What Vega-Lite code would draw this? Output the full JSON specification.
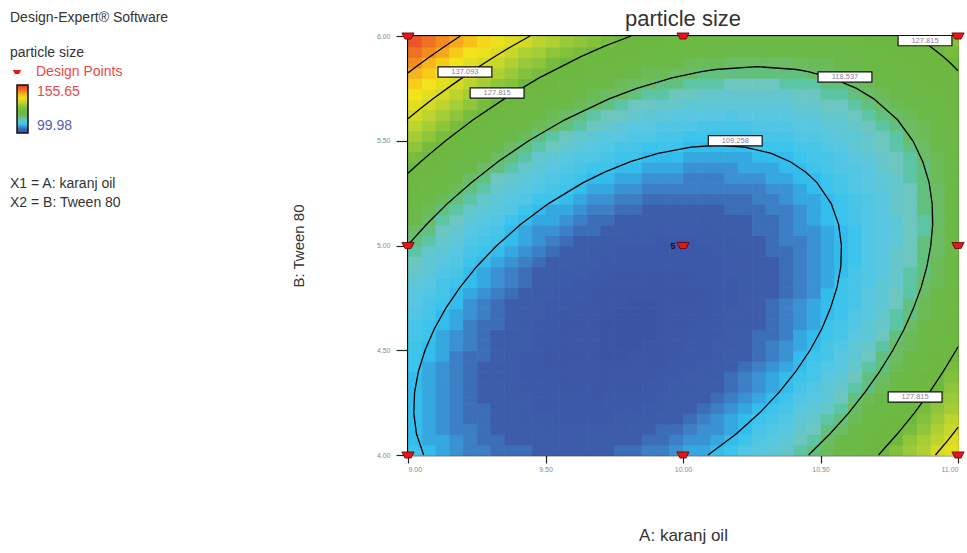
{
  "$schema": "https://vega.github.io/schema/vega-lite/v6.json",
  "width": 550,
  "height": 419,
  "autosize": {"type": "none"},
  "padding": {"left": 408, "top": 36, "right": 9, "bottom": 98},
  "background": "white",
  "config": {
    "font": "Liberation Sans",
    "view": {"stroke": "#000", "strokeWidth": 2},
    "axis": {"zindex": 1, "grid": false, "domainColor": "#000", "domainWidth": 1.5, "tickColor": "#222", "tickWidth": 1.2, "labelColor": "#8a8a8a", "labelFontSize": 7, "titleColor": "#333", "titleFontWeight": "normal"}
  },
  "title": {"text": "particle size", "fontSize": 22, "fontWeight": "normal", "color": "#333", "offset": -20, "anchor": "middle", "frame": "group"},
  "datasets": {
    "grid": [
      {"B":4,"A":[9,9.05,9.1,9.15,9.2,9.25,9.3,9.35,9.4,9.45,9.5,9.55,9.6,9.65,9.7,9.75,9.8,9.85,9.9,9.95,10,10.05,10.1,10.15,10.2,10.25,10.3,10.35,10.4,10.45,10.5,10.55,10.6,10.65,10.7,10.75,10.8,10.85,10.9,10.95],"v":[110,109,108,107,106,106,105,105,105,104,104,104,104,104,104,105,105,106,106,107,108,108,109,110,112,113,114,115,117,118,120,122,124,126,128,130,132,134,137,139]},
      {"B":4.05,"A":[9,9.05,9.1,9.15,9.2,9.25,9.3,9.35,9.4,9.45,9.5,9.55,9.6,9.65,9.7,9.75,9.8,9.85,9.9,9.95,10,10.05,10.1,10.15,10.2,10.25,10.3,10.35,10.4,10.45,10.5,10.55,10.6,10.65,10.7,10.75,10.8,10.85,10.9,10.95],"v":[109,108,108,107,106,105,105,104,104,104,104,103,103,104,104,104,104,105,105,106,107,107,108,109,110,112,113,114,116,117,119,121,122,124,126,128,131,133,135,138]},
      {"B":4.1,"A":[9,9.05,9.1,9.15,9.2,9.25,9.3,9.35,9.4,9.45,9.5,9.55,9.6,9.65,9.7,9.75,9.8,9.85,9.9,9.95,10,10.05,10.1,10.15,10.2,10.25,10.3,10.35,10.4,10.45,10.5,10.55,10.6,10.65,10.7,10.75,10.8,10.85,10.9,10.95],"v":[109,108,107,106,106,105,104,104,104,103,103,103,103,103,103,103,104,104,105,105,106,107,107,108,109,111,112,113,115,116,118,119,121,123,125,127,129,131,134,136]},
      {"B":4.15,"A":[9,9.05,9.1,9.15,9.2,9.25,9.3,9.35,9.4,9.45,9.5,9.55,9.6,9.65,9.7,9.75,9.8,9.85,9.9,9.95,10,10.05,10.1,10.15,10.2,10.25,10.3,10.35,10.4,10.45,10.5,10.55,10.6,10.65,10.7,10.75,10.8,10.85,10.9,10.95],"v":[109,108,107,106,105,105,104,104,103,103,103,102,102,102,102,103,103,103,104,104,105,106,107,108,109,110,111,112,114,115,117,118,120,122,124,126,128,130,132,135]},
      {"B":4.2,"A":[9,9.05,9.1,9.15,9.2,9.25,9.3,9.35,9.4,9.45,9.5,9.55,9.6,9.65,9.7,9.75,9.8,9.85,9.9,9.95,10,10.05,10.1,10.15,10.2,10.25,10.3,10.35,10.4,10.45,10.5,10.55,10.6,10.65,10.7,10.75,10.8,10.85,10.9,10.95],"v":[109,108,107,106,105,105,104,103,103,102,102,102,102,102,102,102,102,103,103,104,104,105,106,107,108,109,110,111,113,114,115,117,119,121,122,124,127,129,131,133]},
      {"B":4.25,"A":[9,9.05,9.1,9.15,9.2,9.25,9.3,9.35,9.4,9.45,9.5,9.55,9.6,9.65,9.7,9.75,9.8,9.85,9.9,9.95,10,10.05,10.1,10.15,10.2,10.25,10.3,10.35,10.4,10.45,10.5,10.55,10.6,10.65,10.7,10.75,10.8,10.85,10.9,10.95],"v":[109,108,107,106,105,104,104,103,103,102,102,102,102,101,102,102,102,102,103,103,104,104,105,106,107,108,109,110,112,113,114,116,118,120,121,123,125,127,130,132]},
      {"B":4.3,"A":[9,9.05,9.1,9.15,9.2,9.25,9.3,9.35,9.4,9.45,9.5,9.55,9.6,9.65,9.7,9.75,9.8,9.85,9.9,9.95,10,10.05,10.1,10.15,10.2,10.25,10.3,10.35,10.4,10.45,10.5,10.55,10.6,10.65,10.7,10.75,10.8,10.85,10.9,10.95],"v":[109,108,107,106,105,104,104,103,102,102,102,101,101,101,101,101,101,102,102,103,103,104,104,105,106,107,108,109,111,112,114,115,117,118,120,122,124,126,128,131]},
      {"B":4.35,"A":[9,9.05,9.1,9.15,9.2,9.25,9.3,9.35,9.4,9.45,9.5,9.55,9.6,9.65,9.7,9.75,9.8,9.85,9.9,9.95,10,10.05,10.1,10.15,10.2,10.25,10.3,10.35,10.4,10.45,10.5,10.55,10.6,10.65,10.7,10.75,10.8,10.85,10.9,10.95],"v":[109,108,107,106,105,104,104,103,102,102,102,101,101,101,101,101,101,101,102,102,103,103,104,105,106,107,108,109,110,111,113,114,116,118,119,121,123,125,127,130]},
      {"B":4.4,"A":[9,9.05,9.1,9.15,9.2,9.25,9.3,9.35,9.4,9.45,9.5,9.55,9.6,9.65,9.7,9.75,9.8,9.85,9.9,9.95,10,10.05,10.1,10.15,10.2,10.25,10.3,10.35,10.4,10.45,10.5,10.55,10.6,10.65,10.7,10.75,10.8,10.85,10.9,10.95],"v":[110,108,107,106,105,104,104,103,102,102,101,101,101,101,101,101,101,101,101,102,102,103,103,104,105,106,107,108,109,111,112,113,115,117,118,120,122,124,126,129]},
      {"B":4.45,"A":[9,9.05,9.1,9.15,9.2,9.25,9.3,9.35,9.4,9.45,9.5,9.55,9.6,9.65,9.7,9.75,9.8,9.85,9.9,9.95,10,10.05,10.1,10.15,10.2,10.25,10.3,10.35,10.4,10.45,10.5,10.55,10.6,10.65,10.7,10.75,10.8,10.85,10.9,10.95],"v":[110,109,108,106,105,105,104,103,102,102,101,101,101,101,100,100,101,101,101,101,102,102,103,104,104,105,106,107,109,110,111,113,114,116,118,119,121,123,125,128]},
      {"B":4.5,"A":[9,9.05,9.1,9.15,9.2,9.25,9.3,9.35,9.4,9.45,9.5,9.55,9.6,9.65,9.7,9.75,9.8,9.85,9.9,9.95,10,10.05,10.1,10.15,10.2,10.25,10.3,10.35,10.4,10.45,10.5,10.55,10.6,10.65,10.7,10.75,10.8,10.85,10.9,10.95],"v":[110,109,108,107,106,105,104,103,103,102,101,101,101,101,100,100,100,101,101,101,102,102,103,103,104,105,106,107,108,109,111,112,114,115,117,119,120,122,124,127]},
      {"B":4.55,"A":[9,9.05,9.1,9.15,9.2,9.25,9.3,9.35,9.4,9.45,9.5,9.55,9.6,9.65,9.7,9.75,9.8,9.85,9.9,9.95,10,10.05,10.1,10.15,10.2,10.25,10.3,10.35,10.4,10.45,10.5,10.55,10.6,10.65,10.7,10.75,10.8,10.85,10.9,10.95],"v":[111,110,108,107,106,105,104,103,103,102,102,101,101,101,100,100,100,100,101,101,101,102,102,103,104,105,105,106,108,109,110,111,113,114,116,118,120,122,124,126]},
      {"B":4.6,"A":[9,9.05,9.1,9.15,9.2,9.25,9.3,9.35,9.4,9.45,9.5,9.55,9.6,9.65,9.7,9.75,9.8,9.85,9.9,9.95,10,10.05,10.1,10.15,10.2,10.25,10.3,10.35,10.4,10.45,10.5,10.55,10.6,10.65,10.7,10.75,10.8,10.85,10.9,10.95],"v":[111,110,109,108,106,105,105,104,103,102,102,101,101,101,100,100,100,100,101,101,101,102,102,103,103,104,105,106,107,108,110,111,112,114,115,117,119,121,123,125]},
      {"B":4.65,"A":[9,9.05,9.1,9.15,9.2,9.25,9.3,9.35,9.4,9.45,9.5,9.55,9.6,9.65,9.7,9.75,9.8,9.85,9.9,9.95,10,10.05,10.1,10.15,10.2,10.25,10.3,10.35,10.4,10.45,10.5,10.55,10.6,10.65,10.7,10.75,10.8,10.85,10.9,10.95],"v":[112,111,109,108,107,106,105,104,103,103,102,101,101,101,101,100,100,100,101,101,101,101,102,103,103,104,105,106,107,108,109,110,112,113,115,117,118,120,122,124]},
      {"B":4.7,"A":[9,9.05,9.1,9.15,9.2,9.25,9.3,9.35,9.4,9.45,9.5,9.55,9.6,9.65,9.7,9.75,9.8,9.85,9.9,9.95,10,10.05,10.1,10.15,10.2,10.25,10.3,10.35,10.4,10.45,10.5,10.55,10.6,10.65,10.7,10.75,10.8,10.85,10.9,10.95],"v":[113,111,110,109,107,106,105,104,104,103,102,102,101,101,101,101,100,100,101,101,101,101,102,102,103,104,105,106,107,108,109,110,111,113,114,116,118,120,122,124]},
      {"B":4.75,"A":[9,9.05,9.1,9.15,9.2,9.25,9.3,9.35,9.4,9.45,9.5,9.55,9.6,9.65,9.7,9.75,9.8,9.85,9.9,9.95,10,10.05,10.1,10.15,10.2,10.25,10.3,10.35,10.4,10.45,10.5,10.55,10.6,10.65,10.7,10.75,10.8,10.85,10.9,10.95],"v":[113,112,111,109,108,107,106,105,104,103,103,102,102,101,101,101,101,101,101,101,101,101,102,102,103,104,104,105,106,107,109,110,111,113,114,116,117,119,121,123]},
      {"B":4.8,"A":[9,9.05,9.1,9.15,9.2,9.25,9.3,9.35,9.4,9.45,9.5,9.55,9.6,9.65,9.7,9.75,9.8,9.85,9.9,9.95,10,10.05,10.1,10.15,10.2,10.25,10.3,10.35,10.4,10.45,10.5,10.55,10.6,10.65,10.7,10.75,10.8,10.85,10.9,10.95],"v":[114,113,111,110,109,108,107,106,105,104,103,103,102,102,101,101,101,101,101,101,101,102,102,102,103,104,104,105,106,107,108,110,111,112,114,115,117,119,120,122]},
      {"B":4.85,"A":[9,9.05,9.1,9.15,9.2,9.25,9.3,9.35,9.4,9.45,9.5,9.55,9.6,9.65,9.7,9.75,9.8,9.85,9.9,9.95,10,10.05,10.1,10.15,10.2,10.25,10.3,10.35,10.4,10.45,10.5,10.55,10.6,10.65,10.7,10.75,10.8,10.85,10.9,10.95],"v":[115,114,112,111,109,108,107,106,105,104,104,103,103,102,102,101,101,101,101,101,101,102,102,103,103,104,104,105,106,107,108,109,111,112,113,115,117,118,120,122]},
      {"B":4.9,"A":[9,9.05,9.1,9.15,9.2,9.25,9.3,9.35,9.4,9.45,9.5,9.55,9.6,9.65,9.7,9.75,9.8,9.85,9.9,9.95,10,10.05,10.1,10.15,10.2,10.25,10.3,10.35,10.4,10.45,10.5,10.55,10.6,10.65,10.7,10.75,10.8,10.85,10.9,10.95],"v":[116,114,113,112,110,109,108,107,106,105,104,104,103,103,102,102,102,102,102,102,102,102,102,103,103,104,104,105,106,107,108,109,110,112,113,115,116,118,120,122]},
      {"B":4.95,"A":[9,9.05,9.1,9.15,9.2,9.25,9.3,9.35,9.4,9.45,9.5,9.55,9.6,9.65,9.7,9.75,9.8,9.85,9.9,9.95,10,10.05,10.1,10.15,10.2,10.25,10.3,10.35,10.4,10.45,10.5,10.55,10.6,10.65,10.7,10.75,10.8,10.85,10.9,10.95],"v":[117,115,114,113,111,110,109,108,107,106,105,104,104,103,103,102,102,102,102,102,102,102,103,103,103,104,105,105,106,107,108,109,110,112,113,115,116,118,119,121]},
      {"B":5,"A":[9,9.05,9.1,9.15,9.2,9.25,9.3,9.35,9.4,9.45,9.5,9.55,9.6,9.65,9.7,9.75,9.8,9.85,9.9,9.95,10,10.05,10.1,10.15,10.2,10.25,10.3,10.35,10.4,10.45,10.5,10.55,10.6,10.65,10.7,10.75,10.8,10.85,10.9,10.95],"v":[118,117,115,114,112,111,110,109,108,107,106,105,104,104,103,103,103,103,102,102,102,103,103,103,104,104,105,106,106,107,108,109,110,112,113,114,116,118,119,121]},
      {"B":5.05,"A":[9,9.05,9.1,9.15,9.2,9.25,9.3,9.35,9.4,9.45,9.5,9.55,9.6,9.65,9.7,9.75,9.8,9.85,9.9,9.95,10,10.05,10.1,10.15,10.2,10.25,10.3,10.35,10.4,10.45,10.5,10.55,10.6,10.65,10.7,10.75,10.8,10.85,10.9,10.95],"v":[119,118,116,115,113,112,111,109,108,107,107,106,105,105,104,104,103,103,103,103,103,103,103,104,104,105,105,106,107,107,108,109,110,112,113,114,116,117,119,121]},
      {"B":5.1,"A":[9,9.05,9.1,9.15,9.2,9.25,9.3,9.35,9.4,9.45,9.5,9.55,9.6,9.65,9.7,9.75,9.8,9.85,9.9,9.95,10,10.05,10.1,10.15,10.2,10.25,10.3,10.35,10.4,10.45,10.5,10.55,10.6,10.65,10.7,10.75,10.8,10.85,10.9,10.95],"v":[121,119,117,116,114,113,112,110,109,108,108,107,106,105,105,104,104,104,104,104,104,104,104,104,104,105,105,106,107,108,109,110,111,112,113,114,116,117,119,121]},
      {"B":5.15,"A":[9,9.05,9.1,9.15,9.2,9.25,9.3,9.35,9.4,9.45,9.5,9.55,9.6,9.65,9.7,9.75,9.8,9.85,9.9,9.95,10,10.05,10.1,10.15,10.2,10.25,10.3,10.35,10.4,10.45,10.5,10.55,10.6,10.65,10.7,10.75,10.8,10.85,10.9,10.95],"v":[122,120,118,117,115,114,113,112,110,109,108,108,107,106,106,105,105,104,104,104,104,104,104,105,105,105,106,106,107,108,109,110,111,112,113,115,116,118,119,121]},
      {"B":5.2,"A":[9,9.05,9.1,9.15,9.2,9.25,9.3,9.35,9.4,9.45,9.5,9.55,9.6,9.65,9.7,9.75,9.8,9.85,9.9,9.95,10,10.05,10.1,10.15,10.2,10.25,10.3,10.35,10.4,10.45,10.5,10.55,10.6,10.65,10.7,10.75,10.8,10.85,10.9,10.95],"v":[123,121,120,118,117,115,114,113,112,110,110,109,108,107,107,106,106,105,105,105,105,105,105,105,105,106,106,107,108,108,109,110,111,112,113,115,116,118,119,121]},
      {"B":5.25,"A":[9,9.05,9.1,9.15,9.2,9.25,9.3,9.35,9.4,9.45,9.5,9.55,9.6,9.65,9.7,9.75,9.8,9.85,9.9,9.95,10,10.05,10.1,10.15,10.2,10.25,10.3,10.35,10.4,10.45,10.5,10.55,10.6,10.65,10.7,10.75,10.8,10.85,10.9,10.95],"v":[125,123,121,120,118,117,115,114,113,112,111,110,109,108,108,107,107,106,106,106,106,106,106,106,106,106,107,107,108,109,110,111,112,113,114,115,116,118,119,121]},
      {"B":5.3,"A":[9,9.05,9.1,9.15,9.2,9.25,9.3,9.35,9.4,9.45,9.5,9.55,9.6,9.65,9.7,9.75,9.8,9.85,9.9,9.95,10,10.05,10.1,10.15,10.2,10.25,10.3,10.35,10.4,10.45,10.5,10.55,10.6,10.65,10.7,10.75,10.8,10.85,10.9,10.95],"v":[126,124,123,121,119,118,116,115,114,113,112,111,110,109,109,108,108,107,107,107,106,106,106,107,107,107,108,108,109,109,110,111,112,113,114,115,117,118,120,121]},
      {"B":5.35,"A":[9,9.05,9.1,9.15,9.2,9.25,9.3,9.35,9.4,9.45,9.5,9.55,9.6,9.65,9.7,9.75,9.8,9.85,9.9,9.95,10,10.05,10.1,10.15,10.2,10.25,10.3,10.35,10.4,10.45,10.5,10.55,10.6,10.65,10.7,10.75,10.8,10.85,10.9,10.95],"v":[128,126,124,122,121,119,118,117,115,114,113,112,111,110,110,109,109,108,108,108,107,107,107,107,108,108,108,109,109,110,111,112,112,113,115,116,117,118,120,121]},
      {"B":5.4,"A":[9,9.05,9.1,9.15,9.2,9.25,9.3,9.35,9.4,9.45,9.5,9.55,9.6,9.65,9.7,9.75,9.8,9.85,9.9,9.95,10,10.05,10.1,10.15,10.2,10.25,10.3,10.35,10.4,10.45,10.5,10.55,10.6,10.65,10.7,10.75,10.8,10.85,10.9,10.95],"v":[129,128,126,124,122,121,119,118,117,115,114,113,112,112,111,110,110,109,109,109,108,108,108,108,108,109,109,109,110,111,111,112,113,114,115,116,117,119,120,122]},
      {"B":5.45,"A":[9,9.05,9.1,9.15,9.2,9.25,9.3,9.35,9.4,9.45,9.5,9.55,9.6,9.65,9.7,9.75,9.8,9.85,9.9,9.95,10,10.05,10.1,10.15,10.2,10.25,10.3,10.35,10.4,10.45,10.5,10.55,10.6,10.65,10.7,10.75,10.8,10.85,10.9,10.95],"v":[131,129,127,126,124,122,121,119,118,117,116,115,114,113,112,111,111,110,110,110,109,109,109,109,109,110,110,110,111,111,112,113,114,115,116,117,118,119,121,122]},
      {"B":5.5,"A":[9,9.05,9.1,9.15,9.2,9.25,9.3,9.35,9.4,9.45,9.5,9.55,9.6,9.65,9.7,9.75,9.8,9.85,9.9,9.95,10,10.05,10.1,10.15,10.2,10.25,10.3,10.35,10.4,10.45,10.5,10.55,10.6,10.65,10.7,10.75,10.8,10.85,10.9,10.95],"v":[133,131,129,127,126,124,122,121,120,118,117,116,115,114,113,113,112,112,111,111,110,110,110,110,110,111,111,111,112,112,113,114,114,115,116,117,119,120,121,123]},
      {"B":5.55,"A":[9,9.05,9.1,9.15,9.2,9.25,9.3,9.35,9.4,9.45,9.5,9.55,9.6,9.65,9.7,9.75,9.8,9.85,9.9,9.95,10,10.05,10.1,10.15,10.2,10.25,10.3,10.35,10.4,10.45,10.5,10.55,10.6,10.65,10.7,10.75,10.8,10.85,10.9,10.95],"v":[135,133,131,129,127,126,124,123,121,120,119,118,117,116,115,114,113,113,112,112,112,111,111,111,111,112,112,112,113,113,114,114,115,116,117,118,119,120,122,123]},
      {"B":5.6,"A":[9,9.05,9.1,9.15,9.2,9.25,9.3,9.35,9.4,9.45,9.5,9.55,9.6,9.65,9.7,9.75,9.8,9.85,9.9,9.95,10,10.05,10.1,10.15,10.2,10.25,10.3,10.35,10.4,10.45,10.5,10.55,10.6,10.65,10.7,10.75,10.8,10.85,10.9,10.95],"v":[137,135,133,131,129,127,126,124,123,122,120,119,118,117,116,116,115,114,114,113,113,113,113,112,113,113,113,113,114,114,115,115,116,117,118,119,120,121,122,124]},
      {"B":5.65,"A":[9,9.05,9.1,9.15,9.2,9.25,9.3,9.35,9.4,9.45,9.5,9.55,9.6,9.65,9.7,9.75,9.8,9.85,9.9,9.95,10,10.05,10.1,10.15,10.2,10.25,10.3,10.35,10.4,10.45,10.5,10.55,10.6,10.65,10.7,10.75,10.8,10.85,10.9,10.95],"v":[139,137,135,133,131,129,128,126,125,123,122,121,120,119,118,117,116,116,115,115,114,114,114,114,114,114,114,114,115,115,116,116,117,118,119,120,121,122,123,125]},
      {"B":5.7,"A":[9,9.05,9.1,9.15,9.2,9.25,9.3,9.35,9.4,9.45,9.5,9.55,9.6,9.65,9.7,9.75,9.8,9.85,9.9,9.95,10,10.05,10.1,10.15,10.2,10.25,10.3,10.35,10.4,10.45,10.5,10.55,10.6,10.65,10.7,10.75,10.8,10.85,10.9,10.95],"v":[141,139,137,135,133,131,130,128,126,125,124,123,121,120,119,119,118,117,117,116,116,115,115,115,115,115,115,115,116,116,117,117,118,119,120,121,122,123,124,125]},
      {"B":5.75,"A":[9,9.05,9.1,9.15,9.2,9.25,9.3,9.35,9.4,9.45,9.5,9.55,9.6,9.65,9.7,9.75,9.8,9.85,9.9,9.95,10,10.05,10.1,10.15,10.2,10.25,10.3,10.35,10.4,10.45,10.5,10.55,10.6,10.65,10.7,10.75,10.8,10.85,10.9,10.95],"v":[143,141,139,137,135,133,131,130,128,127,126,124,123,122,121,120,119,119,118,118,117,117,117,116,116,116,116,117,117,117,118,118,119,120,121,122,123,124,125,126]},
      {"B":5.8,"A":[9,9.05,9.1,9.15,9.2,9.25,9.3,9.35,9.4,9.45,9.5,9.55,9.6,9.65,9.7,9.75,9.8,9.85,9.9,9.95,10,10.05,10.1,10.15,10.2,10.25,10.3,10.35,10.4,10.45,10.5,10.55,10.6,10.65,10.7,10.75,10.8,10.85,10.9,10.95],"v":[145,143,141,139,137,135,134,132,130,129,127,126,125,124,123,122,121,120,120,119,119,118,118,118,118,118,118,118,118,119,119,120,120,121,122,123,124,125,126,127]},
      {"B":5.85,"A":[9,9.05,9.1,9.15,9.2,9.25,9.3,9.35,9.4,9.45,9.5,9.55,9.6,9.65,9.7,9.75,9.8,9.85,9.9,9.95,10,10.05,10.1,10.15,10.2,10.25,10.3,10.35,10.4,10.45,10.5,10.55,10.6,10.65,10.7,10.75,10.8,10.85,10.9,10.95],"v":[148,145,143,141,139,137,136,134,132,131,129,128,127,126,125,124,123,122,121,121,120,120,120,119,119,119,119,119,120,120,120,121,121,122,123,124,125,126,127,128]},
      {"B":5.9,"A":[9,9.05,9.1,9.15,9.2,9.25,9.3,9.35,9.4,9.45,9.5,9.55,9.6,9.65,9.7,9.75,9.8,9.85,9.9,9.95,10,10.05,10.1,10.15,10.2,10.25,10.3,10.35,10.4,10.45,10.5,10.55,10.6,10.65,10.7,10.75,10.8,10.85,10.9,10.95],"v":[150,148,146,143,141,140,138,136,134,133,131,130,129,128,127,126,125,124,123,123,122,122,121,121,121,121,121,121,121,121,122,122,123,123,124,125,126,127,128,129]},
      {"B":5.95,"A":[9,9.05,9.1,9.15,9.2,9.25,9.3,9.35,9.4,9.45,9.5,9.55,9.6,9.65,9.7,9.75,9.8,9.85,9.9,9.95,10,10.05,10.1,10.15,10.2,10.25,10.3,10.35,10.4,10.45,10.5,10.55,10.6,10.65,10.7,10.75,10.8,10.85,10.9,10.95],"v":[152,150,148,146,144,142,140,138,137,135,134,132,131,130,129,128,127,126,125,124,124,123,123,123,122,122,122,122,122,123,123,123,124,125,125,126,127,128,129,130]}
    ],
    "contours": [
      {"s":1,"A":[9.057,9.031,9.021,9.024,9.038,9.062,9.095,9.137,9.189,9.25,9.323,9.409,9.511,9.637,9.715,9.809,9.909,10.029,10.129,10.224,10.321,10.39,10.447,10.487,10.539,10.566,10.576,10.574,10.56,10.536,10.504,10.462,10.411,10.35,10.278,10.193,10.091],"B":[4,4.1,4.2,4.3,4.4,4.5,4.6,4.7,4.8,4.9,5,5.1,5.2,5.3,5.35,5.4,5.44,5.47,5.4785,5.47,5.44,5.4,5.35,5.3,5.2,5.1,5,4.9,4.8,4.7,4.6,4.5,4.4,4.3,4.2,4.1,4],"k":[0,1,2,3,4,5,6,7,8,9,10,11,12,13,14,15,16,17,18,19,20,21,22,23,24,25,26,27,28,29,30,31,32,33,34,35,36]},
      {"s":2,"A":[9,9.067,9.143,9.23,9.327,9.439,9.57,9.731,9.832,9.96,10.067,10.117,10.27,10.413,10.455,10.54,10.631,10.694,10.78,10.836,10.872,10.895,10.906,10.908,10.901,10.887,10.866,10.838,10.804,10.763,10.716,10.662,10.602,10.534,10.457],"B":[5.003,5.1,5.2,5.3,5.4,5.5,5.6,5.7,5.75,5.8,5.83,5.84,5.8536,5.84,5.83,5.8,5.75,5.7,5.6,5.5,5.4,5.3,5.2,5.1,5,4.9,4.8,4.7,4.6,4.5,4.4,4.3,4.2,4.1,4],"k":[0,1,2,3,4,5,6,7,8,9,10,11,12,13,14,15,16,17,18,19,20,21,22,23,24,25,26,27,28,29,30,31,32,33,34]},
      {"s":3,"A":[9,9.046,9.091,9.137,9.237,9.35,9.477,9.627,9.713,9.811],"B":[5.345,5.4,5.45,5.5,5.6,5.7,5.8,5.9,5.95,6],"k":[0,1,2,3,4,5,6,7,8,9]},
      {"s":4,"A":[10.839,10.8995,10.948,10.973,11],"B":[6,5.95,5.9,5.87,5.834],"k":[0,1,2,3,4]},
      {"s":5,"A":[11,10.993,10.947,10.897,10.841,10.779,10.711],"B":[4.517,4.5,4.4,4.3,4.2,4.1,4],"k":[0,1,2,3,4,5,6]},
      {"s":6,"A":[9,9.042,9.091,9.143,9.197,9.253,9.313,9.376,9.444],"B":[5.605,5.65,5.7,5.75,5.8,5.85,5.9,5.95,6],"k":[0,1,2,3,4,5,6,7,8]},
      {"s":7,"A":[11,10.963,10.918],"B":[4.132,4.07,4],"k":[0,1,2]},
      {"s":8,"A":[9,9.037,9.078,9.133,9.19],"B":[5.824,5.86,5.9,5.95,6],"k":[0,1,2,3,4]}
    ],
    "labels": [
      {"A":10.19,"B":5.5,"t":"109.258"},
      {"A":10.589,"B":5.804,"t":"118.537"},
      {"A":9.324,"B":5.728,"t":"127.815"},
      {"A":10.88,"B":5.978,"t":"127.815"},
      {"A":10.844,"B":4.277,"t":"127.815"},
      {"A":9.207,"B":5.828,"t":"137.093"}
    ],
    "design": [
      {"A":9,"B":4,"n":1,"kind":"Design Points"},
      {"A":10,"B":4,"n":1,"kind":"Design Points"},
      {"A":11,"B":4,"n":1,"kind":"Design Points"},
      {"A":9,"B":5,"n":1,"kind":"Design Points"},
      {"A":10,"B":5,"n":5,"kind":"Design Points"},
      {"A":11,"B":5,"n":1,"kind":"Design Points"},
      {"A":9,"B":6,"n":1,"kind":"Design Points"},
      {"A":10,"B":6,"n":1,"kind":"Design Points"},
      {"A":11,"B":6,"n":1,"kind":"Design Points"}
    ]
  },
  "layer": [
    {
      "data": {"name": "grid"},
      "transform": [{"flatten": ["A", "v"]}],
      "mark": {"type": "rect", "binSpacing": 0, "strokeWidth": 0.8, "stroke": {"expr": "scale('fill', datum.v)"}},
      "encoding": {
        "x": {"field": "A", "type": "quantitative", "bin": {"binned": true, "step": 0.05},
          "scale": {"domain": [9, 11], "nice": false, "zero": false},
          "axis": {"title": "A: karanj oil", "values": [9, 9.5, 10, 10.5, 11], "format": ".2f", "tickSize": 8, "labelPadding": 2, "titleFontSize": 17, "titlePadding": 55}},
        "y": {"field": "B", "type": "quantitative", "bin": {"binned": true, "step": 0.05},
          "scale": {"domain": [4, 6], "nice": false, "zero": false},
          "axis": {"title": "B: Tween 80", "values": [4, 4.5, 5, 5.5, 6], "format": ".2f", "tickSize": 12, "labelPadding": 6, "titleFontSize": 15, "titlePadding": 70}},
        "fill": {"field": "v", "type": "quantitative",
          "scale": {"domain": [99.98, 104, 106.5, 109.3, 113, 116, 118.5, 121, 128, 132, 137, 141, 145, 149, 153, 155.65],
                    "range": ["#3a55a4", "#3d5dab", "#3f88c9", "#34c3ef", "#5ac7e2", "#6ec6c0", "#6cbd6a", "#6bb948", "#6db83e", "#9ac93a", "#d4da25", "#f3e31c", "#f6b51f", "#f07d22", "#e8472a", "#e03a22"]},
          "legend": {"type": "gradient", "orient": "none", "legendX": -398, "legendY": 49, "direction": "vertical",
            "gradientLength": 48, "gradientThickness": 11, "gradientStrokeColor": "#111", "gradientStrokeWidth": 1.5,
            "values": [99.98, 155.65], "format": ".2f", "labelFontSize": 14, "labelOffset": 9,
            "title": ["X1 = A: karanj oil", "X2 = B: Tween 80"], "titleOrient": "bottom", "titleAnchor": "start", "titleAlign": "left",
            "titleFontSize": 14, "titleFontWeight": "normal", "titleColor": "#333", "titleLineHeight": 19, "titlePadding": 43,
            "encode": {"labels": {"update": {"fill": {"signal": "datum.value > 120 ? '#e8484c' : '#4f60b5'"}}},
                       "title": {"update": {"dx": {"value": -7}}}}}}
      }
    },
    {
      "data": {"name": "contours"},
      "transform": [{"flatten": ["A", "B", "k"]}],
      "mark": {"type": "line", "color": "#000", "strokeWidth": 1.3},
      "encoding": {
        "x": {"field": "A", "type": "quantitative"},
        "y": {"field": "B", "type": "quantitative"},
        "detail": {"field": "s", "type": "nominal"},
        "order": {"field": "k", "type": "quantitative"}
      }
    },
    {
      "data": {"name": "labels"},
      "mark": {"type": "point", "shape": "M-1,-0.19L1,-0.19L1,0.19L-1,0.19Z", "filled": true, "fill": "#fff", "stroke": "#111", "strokeWidth": 1.2, "size": 2900, "opacity": 1},
      "encoding": {
        "x": {"field": "A", "type": "quantitative"},
        "y": {"field": "B", "type": "quantitative"}
      }
    },
    {
      "data": {"name": "labels"},
      "mark": {"type": "text", "fontSize": 7.5, "color": "#8a7f9a", "baseline": "middle"},
      "encoding": {
        "x": {"field": "A", "type": "quantitative"},
        "y": {"field": "B", "type": "quantitative"},
        "text": {"field": "t"}
      }
    },
    {
      "data": {"name": "design"},
      "mark": {"type": "point", "filled": true, "fill": "#e8141c", "stroke": "#5a0000", "strokeWidth": 0.8, "size": 150, "opacity": 1},
      "encoding": {
        "x": {"field": "A", "type": "quantitative"},
        "y": {"field": "B", "type": "quantitative"},
        "shape": {"field": "kind", "type": "nominal",
          "scale": {"range": ["M-1,-0.5L1,-0.5L0.5,0.5L-0.5,0.5Z"]},
          "legend": {"orient": "none", "legendX": -398, "legendY": -25,
            "title": ["Design-Expert® Software", "particle size"], "titleFontSize": 14, "titleFontWeight": "normal", "titleColor": "#333", "titleLineHeight": 35, "titlePadding": 5,
            "labelFontSize": 14, "labelColor": "#e8484c", "labelOffset": 12,
            "symbolFillColor": "#e8141c", "symbolStrokeColor": "#5a0000", "symbolSize": 70}}
      }
    },
    {
      "data": {"name": "design"},
      "transform": [{"filter": "datum.n > 1"}],
      "mark": {"type": "text", "dx": -10, "fontSize": 9, "fontWeight": "bold", "color": "#111"},
      "encoding": {
        "x": {"field": "A", "type": "quantitative"},
        "y": {"field": "B", "type": "quantitative"},
        "text": {"field": "n"}
      }
    }
  ]
}
